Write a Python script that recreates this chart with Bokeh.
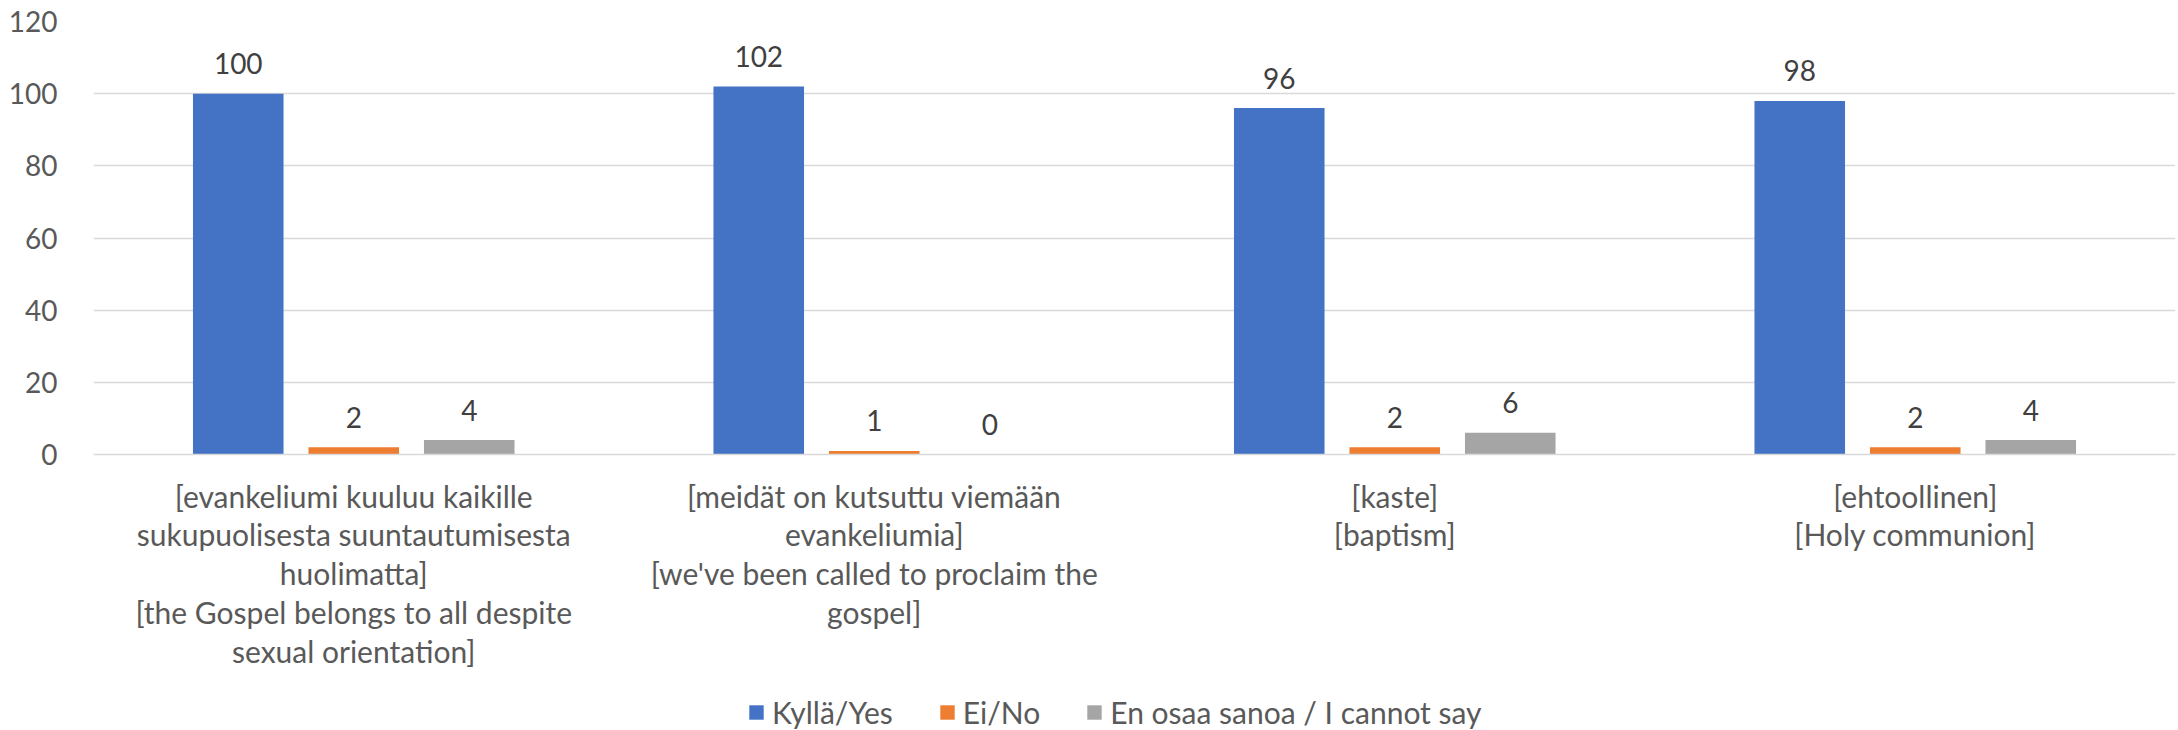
from bokeh.plotting import figure
from bokeh.models import ColumnDataSource, FactorRange, Range1d, Legend, LegendItem
from bokeh.layouts import column
from bokeh.transform import dodge
from bokeh.core.properties import value
from bokeh.embed import file_html
from bokeh.resources import INLINE

categories = [
    "[evankeliumi kuuluu kaikille\nsukupuolisesta suuntautumisesta\nhuolimatta]\n[the Gospel belongs to all despite\nsexual orientation]",
    "[meidät on kutsuttu viemään\nevankeliumia]\n[we've been called to proclaim the\ngospel]",
    "[kaste]\n[baptism]",
    "[ehtoollinen]\n[Holy communion]",
]
series_names = ["Kyllä/Yes", "Ei/No", "En osaa sanoa / I cannot say"]
yes_vals = [100, 102, 96, 98]
no_vals = [2, 1, 2, 2]
cant_vals = [4, 0, 6, 4]
y_ticks = [0, 20, 40, 60, 80, 100, 120]

colors = ["#4472C4", "#ED7D31", "#A5A5A5"]
FONT = "Lato"
TXT = "#595959"

src = ColumnDataSource(dict(
    cat=categories, yes=yes_vals, no=no_vals, cant=cant_vals,
    yes_t=[str(v) for v in yes_vals], no_t=[str(v) for v in no_vals],
    cant_t=[str(v) for v in cant_vals],
))

p = figure(width=2178, height=680, x_range=FactorRange(factors=categories),
           y_range=Range1d(0, 120), output_backend="svg", toolbar_location=None,
           min_border_left=93, min_border_right=3, min_border_top=21,
           min_border_bottom=226)
p.outline_line_color = None

off = 0.2219
w = 0.174
cols = ["yes", "no", "cant"]
for i, (c, col) in enumerate(zip(cols, colors)):
    dx = (i - 1) * off
    p.vbar(x=dodge("cat", dx, range=p.x_range), top=c, width=w, source=src,
           fill_color=col, line_color=None)
    p.text(x=dodge("cat", dx, range=p.x_range), y=c, text=c + "_t", source=src,
           text_align="center", text_baseline="middle", y_offset=-30,
           text_font=value(FONT), text_font_size="28px", text_color="#404040")

p.xgrid.grid_line_color = None
p.ygrid.grid_line_color = "#D9D9D9"
p.ygrid.grid_line_width = 1.5
p.yaxis.ticker = y_ticks
p.yaxis.axis_line_color = None
p.yaxis.major_tick_line_color = None
p.yaxis.minor_tick_line_color = None
p.yaxis.major_label_standoff = 30
p.yaxis.major_label_text_font = FONT
p.yaxis.major_label_text_font_size = "28px"
p.yaxis.major_label_text_color = TXT

p.xaxis.axis_line_color = "#D9D9D9"
p.xaxis.axis_line_width = 1.5
p.xaxis.major_tick_line_color = None
p.xaxis.minor_tick_line_color = None
p.xaxis.major_label_standoff = 17
p.xaxis.major_label_text_font = FONT
p.xaxis.major_label_text_font_size = "30px"
p.xaxis.major_label_text_color = TXT
p.xaxis.major_label_text_line_height = 1.08
p.xaxis.major_label_orientation = "horizontal"

# legend strip below the chart (swatch renderers have zero size, only feed the legend)
lg = figure(width=2178, height=50, x_range=Range1d(0, 1), y_range=Range1d(0, 1),
            output_backend="svg", toolbar_location=None,
            x_axis_location=None, y_axis_location=None, min_border=0)
lg.outline_line_color = None
lg.xgrid.grid_line_color = None
lg.ygrid.grid_line_color = None
swatch = ColumnDataSource(dict(x=[0.5], top=[0.0]))
legend_renderers = [lg.vbar(x="x", top="top", bottom=0.0, width=0.0, source=swatch,
                            fill_color=col, line_color=None) for col in colors]

legend = Legend(items=[LegendItem(label=n, renderers=[r]) for n, r in zip(series_names, legend_renderers)],
                orientation="horizontal", location=(654, 0))
legend.border_line_color = None
legend.background_fill_alpha = 0
legend.label_text_font = FONT
legend.label_text_font_size = "30px"
legend.label_text_color = TXT
legend.glyph_width = 18
legend.glyph_height = 18
legend.label_standoff = 7
legend.spacing = 45
legend.padding = 0
legend.margin = 0
lg.add_layout(legend, "center")

layout = column(p, lg, spacing=0)
open("out.html", "w").write(file_html(layout, INLINE))
